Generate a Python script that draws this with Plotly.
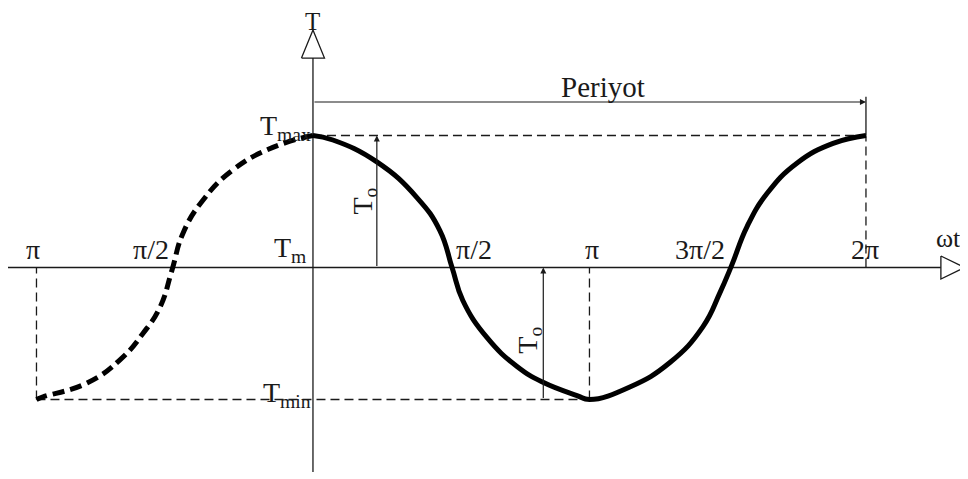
import plotly.graph_objects as go

# omega*t in units of pi, T normalised so that Tmax = 1, Tm = 0, Tmin = -1
solid_wt = [0.000, 0.072, 0.231, 0.376, 0.459, 0.503, 0.542, 0.629, 0.738, 0.832, 0.955, 1.000,
            1.146, 1.291, 1.410, 1.472, 1.515, 1.570, 1.642, 1.750, 1.881, 2.000]
solid_T = [1.00, 0.966, 0.80, 0.53, 0.28, 0.00, -0.25, -0.53, -0.75, -0.87, -0.97, -1.00,
           -0.905, -0.72, -0.45, -0.19, 0.02, 0.31, 0.56, 0.79, 0.94, 1.00]

dashed_wt = [0.000, -0.145, -0.289, -0.398, -0.470, -0.510, -0.553, -0.615, -0.698, -0.817, -0.976, -1.000]
dashed_T = [1.00, 0.91, 0.74, 0.51, 0.26, -0.02, -0.30, -0.50, -0.70, -0.875, -0.98, -1.00]

# labels along the wt axis
tick_text = ["π", "π/2", "T<sub>m</sub>", "π/2", "π", "3π/2", "2π"]
tick_wt = [-1.013, -0.586, -0.083, 0.582, 1.010, 1.400, 1.996]

period_y = 1.254
t0_wt = [0.231, 0.833]

# page has an 8px body margin, so the ranges start 8px into the drawing
X_RANGE = [-1.103, 2.398]
Y_RANGE = [-1.663, 1.966]
PX_X = 968 / (X_RANGE[1] - X_RANGE[0])
PX_Y = 479 / (Y_RANGE[1] - Y_RANGE[0])

INK = "#1a1a1a"
FONT = "Liberation Serif"

fig = go.Figure()

def seg(xs, ys, width=1.3, dash="solid", color=INK):
    fig.add_trace(go.Scatter(x=xs, y=ys, mode="lines", hoverinfo="skip", cliponaxis=False,
                             line=dict(color=color, width=width, dash=dash)))

# axes
ax_x_end = 2.271
ax_y_end = 1.587
seg([-1.107, ax_x_end], [0, 0])
seg([0, 0], [-1.55, ax_y_end])

# open triangle arrow heads
tw, th = 24 / PX_X, 11.5 / PX_Y
fig.add_trace(go.Scatter(x=[ax_x_end, ax_x_end + tw, ax_x_end, ax_x_end], y=[th, 0, -th, th],
                         mode="lines", fill="toself", fillcolor="white", hoverinfo="skip",
                         line=dict(color=INK, width=1.3)))
vw, vh = 11.5 / PX_X, 28 / PX_Y
fig.add_trace(go.Scatter(x=[-vw, 0, vw, -vw], y=[ax_y_end, ax_y_end + vh, ax_y_end, ax_y_end],
                         mode="lines", fill="toself", fillcolor="white", hoverinfo="skip",
                         line=dict(color=INK, width=1.3)))

# dashed guide lines
gd = "9px,5px"
seg([0, 2], [1, 1], dash=gd)
seg([2, 2], [0, 1], dash=gd)
seg([-1, 1], [-1, -1], dash=gd)
seg([1, 1], [-1, 0], dash=gd)
seg([-1, -1], [-1, 0], dash=gd)

# period bracket tick
seg([2, 2], [1.0, period_y + 0.04])

# curves
fig.add_trace(go.Scatter(x=dashed_wt, y=dashed_T, mode="lines", hoverinfo="skip",
                         line=dict(color="black", width=5, dash="12px,6px",
                                   shape="spline", smoothing=1.3)))
fig.add_trace(go.Scatter(x=solid_wt, y=solid_T, mode="lines", hoverinfo="skip",
                         line=dict(color="black", width=5, shape="spline", smoothing=1.3)))

# dimension arrows
arrow = dict(showarrow=True, arrowhead=2, arrowsize=1, arrowwidth=1.2, arrowcolor=INK,
             axref="x", ayref="y", xref="x", yref="y", text="", standoff=0)
fig.add_annotation(x=2, y=period_y, ax=0, ay=period_y, **arrow)
fig.add_annotation(x=t0_wt[0], y=1, ax=t0_wt[0], ay=0, **arrow)
fig.add_annotation(x=t0_wt[1], y=0, ax=t0_wt[1], ay=-1, **arrow)

def label(text, x, y, size=28, angle=0):
    fig.add_annotation(x=x, y=y, text=text, showarrow=False, textangle=angle,
                       xanchor="center", yanchor="middle",
                       font=dict(family=FONT, size=size, color=INK))

for t, x in zip(tick_text, tick_wt):
    label(t, x, 0.135)

label("Periyot", 1.049, 1.37, size=29)
label("T<sub>max</sub>", -0.10, 1.06)
label("T<sub>min</sub>", -0.095, -0.96)
label("T", 0, 1.865, size=25)
label("ωt", 2.30, 0.22, size=26)
label("T<sub>o</sub>", 0.185, 0.50, angle=-90)
label("T<sub>o</sub>", 0.780, -0.55, angle=-90)

fig.update_xaxes(range=X_RANGE, visible=False)
fig.update_yaxes(range=Y_RANGE, visible=False)
fig.update_layout(width=968, height=479, margin=dict(l=0, r=0, t=0, b=0),
                  showlegend=False, paper_bgcolor="white", plot_bgcolor="white")

fig.write_html("out.html", config={"displayModeBar": False})
